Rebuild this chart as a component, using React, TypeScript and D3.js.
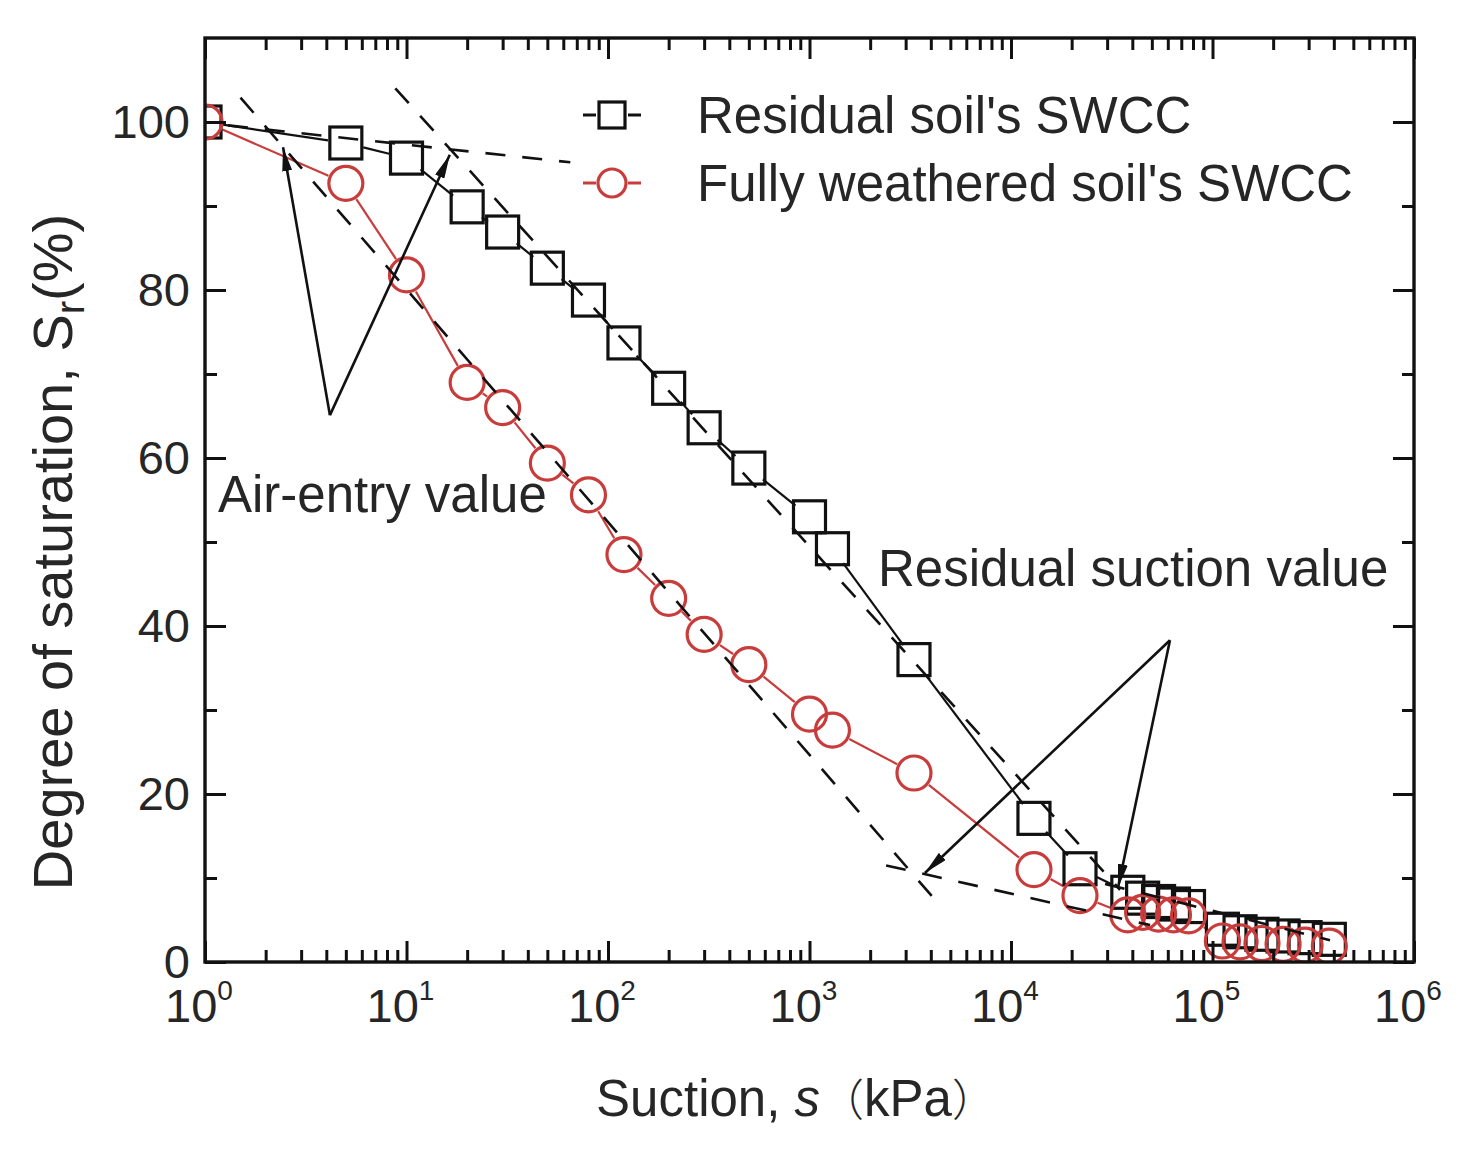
import * as d3 from "d3";
import { useEffect, useRef } from "react";

// suction values (kPa) shared by both soils
const suction = [
  1, 5, 10, 20, 30, 50, 80, 120, 200, 300, 500, 1000, 1300, 3300, 13000, 22000,
  38000, 45000, 54000, 64000, 76000, 112000, 137000, 176000, 224000, 288000, 380000,
];
// degree of saturation Sr (%)
const residualSr = [
  100, 97.5, 95.7, 89.9, 86.9, 82.6, 78.8, 73.7, 68.3, 63.6, 58.8, 53.0, 49.2, 36.0, 17.1, 11.1,
  8.3, 7.6, 7.2, 6.9, 6.6, 3.9, 3.6, 3.3, 3.1, 2.9, 2.7,
];
const weatheredSr = [
  100, 92.7, 81.8, 69.0, 66.0, 59.4, 55.6, 48.5, 43.3, 39.0, 35.4, 29.5, 27.6, 22.5, 11.0, 7.9,
  5.6, 5.9, 5.7, 5.6, 5.5, 2.5, 2.4, 2.2, 2.1, 2.0, 1.9,
];

const seriesNames = ["Residual soil's SWCC", "Fully weathered soil's SWCC"];
const yTicks = [0, 20, 40, 60, 80, 100];
const yMinorTicks = [10, 30, 50, 70, 90];
const xDecades = [0, 1, 2, 3, 4, 5, 6];

// dashed tangent lines, [s1, Sr1, s2, Sr2]
const tangentLines = [
  [1.3, 99.6, 65, 95.2],
  [8.8, 104.0, 34750, 8.6],
  [1.5, 102.9, 4200, 7.4],
  [2400, 11.5, 49000, 4.4],
  [29300, 9.3, 383000, 2.6],
];

// annotation arrows: apex and the points they mark
const airEntryApex = [4.17, 65.1];
const airEntryTips = [[2.44, 97.0], [16.4, 96.1]];
const residualApex = [61500, 38.3];
const residualTips = [[3740, 10.6], [33950, 8.8]];

export default function App() {
  const svgRef = useRef<SVGSVGElement | null>(null);
  useEffect(() => {
    document.body.style.margin = "0";
    if (!svgRef.current) return;
    drawChart(svgRef.current);
  }, []);
  return <svg ref={svgRef} width={1466} height={1150} style={{ display: "block", background: "#fff" }} />;
}

function drawChart(el: SVGSVGElement) {
  const svg = d3.select(el);
  svg.selectAll("*").remove();

  const W = 1466, H = 1150;
  const margin = { top: 38, right: 52, bottom: 188, left: 205 };
  const width = W - margin.left - margin.right;
  const height = H - margin.top - margin.bottom;

  const font = "'Liberation Sans', Arial, Helvetica, sans-serif";
  const ink = "#262626";
  const red = "#c83c3c";

  const x = d3.scaleLog().domain([1, 1e6]).range([0, width]);
  const y = d3.scaleLinear().domain([0, 110]).range([height, 0]);

  const defs = svg.append("defs");
  defs.append("clipPath").attr("id", "plot-clip")
    .append("rect").attr("width", width).attr("height", height);
  defs.append("marker")
    .attr("id", "arrow-head")
    .attr("viewBox", "0 0 24 10")
    .attr("refX", 24).attr("refY", 5)
    .attr("markerWidth", 24).attr("markerHeight", 10)
    .attr("markerUnits", "userSpaceOnUse")
    .attr("orient", "auto")
    .append("path").attr("d", "M0,0 L24,5 L0,10 Z").attr("fill", "#111");

  const chart = svg.append("g").attr("transform", `translate(${margin.left},${margin.top})`);
  const plot = chart.append("g").attr("clip-path", "url(#plot-clip)");

  // line segments between markers, with a gap round each marker
  const gapSegments = (ys: number[], r: number) => {
    const pts = suction.map((v, i) => [x(v), y(ys[i])]);
    const segs: number[][] = [];
    for (let i = 0; i < pts.length - 1; i++) {
      const [x1, y1] = pts[i], [x2, y2] = pts[i + 1];
      const len = Math.hypot(x2 - x1, y2 - y1);
      if (len <= 2 * r + 2) continue;
      const ux = (x2 - x1) / len, uy = (y2 - y1) / len;
      segs.push([x1 + ux * r, y1 + uy * r, x2 - ux * r, y2 - uy * r]);
    }
    return segs;
  };

  plot.append("g").selectAll("line")
    .data(gapSegments(residualSr, 18))
    .join("line")
    .attr("x1", d => d[0]).attr("y1", d => d[1]).attr("x2", d => d[2]).attr("y2", d => d[3])
    .attr("stroke", "#111").attr("stroke-width", 2.2);

  plot.append("g").selectAll("line")
    .data(gapSegments(weatheredSr, 19))
    .join("line")
    .attr("x1", d => d[0]).attr("y1", d => d[1]).attr("x2", d => d[2]).attr("y2", d => d[3])
    .attr("stroke", red).attr("stroke-width", 2.2);

  // markers
  const sq = 32;
  plot.append("g").selectAll("rect")
    .data(suction.map((s, i) => [s, residualSr[i]]))
    .join("rect")
    .attr("x", d => x(d[0]) - sq / 2).attr("y", d => y(d[1]) - sq / 2)
    .attr("width", sq).attr("height", sq)
    .attr("fill", "none").attr("stroke", "#111").attr("stroke-width", 3.2);

  plot.append("g").selectAll("circle")
    .data(suction.map((s, i) => [s, weatheredSr[i]]))
    .join("circle")
    .attr("cx", d => x(d[0])).attr("cy", d => y(d[1])).attr("r", 17)
    .attr("fill", "none").attr("stroke", red).attr("stroke-width", 3.2);

  // dashed tangents
  plot.append("g").selectAll("line")
    .data(tangentLines)
    .join("line")
    .attr("x1", d => x(d[0])).attr("y1", d => y(d[1]))
    .attr("x2", d => x(d[2])).attr("y2", d => y(d[3]))
    .attr("stroke", "#111").attr("stroke-width", 2.6)
    .attr("stroke-dasharray", "20 17");

  // arrows
  const arrows = [
    ...airEntryTips.map(t => [airEntryApex, t]),
    ...residualTips.map(t => [residualApex, t]),
  ];
  chart.append("g").selectAll("line")
    .data(arrows)
    .join("line")
    .attr("x1", d => x(d[0][0])).attr("y1", d => y(d[0][1]))
    .attr("x2", d => x(d[1][0])).attr("y2", d => y(d[1][1]))
    .attr("stroke", "#111").attr("stroke-width", 2.6)
    .attr("marker-end", "url(#arrow-head)");

  // --- ticks (inward on all four sides) ---
  const xMinor = x.ticks().filter(d => !Number.isInteger(Math.round(Math.log10(d) * 1e6) / 1e6));
  const xMajor = xDecades.map(p => Math.pow(10, p));
  const styleTicks = (g: d3.Selection<SVGGElement, unknown, null, undefined>) => {
    g.select(".domain").remove();
    g.selectAll("line").attr("stroke", "#111").attr("stroke-width", 3);
  };
  const tickGroups: [any, number, string][] = [
    [d3.axisBottom(x).tickValues(xMajor).tickSize(-21), height, "h"],
    [d3.axisBottom(x).tickValues(xMinor).tickSize(-12), height, "h"],
    [d3.axisTop(x).tickValues(xMajor).tickSize(-21), 0, "h"],
    [d3.axisTop(x).tickValues(xMinor).tickSize(-12), 0, "h"],
    [d3.axisLeft(y).tickValues(yTicks).tickSize(-21), 0, "v"],
    [d3.axisLeft(y).tickValues(yMinorTicks).tickSize(-12), 0, "v"],
    [d3.axisRight(y).tickValues(yTicks).tickSize(-21), width, "v"],
    [d3.axisRight(y).tickValues(yMinorTicks).tickSize(-12), width, "v"],
  ];
  tickGroups.forEach(([axis, off, dir]) => {
    const g = chart.append("g")
      .attr("transform", dir === "h" ? `translate(0,${off})` : `translate(${off},0)`)
      .call(axis.tickFormat(() => ""));
    styleTicks(g);
  });

  // frame
  chart.append("rect")
    .attr("width", width).attr("height", height)
    .attr("fill", "none").attr("stroke", "#111").attr("stroke-width", 3.4);

  // y tick labels
  chart.append("g").selectAll("text")
    .data(yTicks)
    .join("text")
    .attr("x", -15).attr("y", d => y(d) + 16)
    .attr("text-anchor", "end")
    .style("font-family", font).style("font-size", "47px").style("fill", ink)
    .text(d => d);

  // x tick labels 10^n
  const xl = chart.append("g").selectAll("text")
    .data(xDecades)
    .join("text")
    .attr("x", d => x(Math.pow(10, d)) - 6).attr("y", height + 60)
    .attr("text-anchor", "middle")
    .style("font-family", font).style("font-size", "47px").style("fill", ink);
  xl.append("tspan").text("10");
  xl.append("tspan").attr("dy", -22).style("font-size", "28px").text(d => d);

  // axis titles
  const xt = svg.append("text")
    .attr("x", 796).attr("y", 1116)
    .attr("text-anchor", "middle")
    .style("font-family", font).style("font-size", "51px").style("fill", ink);
  xt.append("tspan").text("Suction, ");
  xt.append("tspan").style("font-style", "italic").text("s");
  xt.append("tspan").style("font-family", "'Noto Sans CJK SC', sans-serif").style("font-weight", 300).style("font-size", "44px").text("（");
  xt.append("tspan").text("kPa");
  xt.append("tspan").style("font-family", "'Noto Sans CJK SC', sans-serif").style("font-weight", 300).style("font-size", "44px").text("）");

  const yt = svg.append("text")
    .attr("transform", "translate(72,552) rotate(-90)")
    .attr("text-anchor", "middle")
    .style("font-family", font).style("font-size", "56px").style("fill", ink);
  yt.append("tspan").text("Degree of saturation, S");
  yt.append("tspan").attr("dy", 12).style("font-size", "40px").text("r");
  yt.append("tspan").attr("dy", -12).text("(%)");

  // legend
  const legend = svg.append("g");
  const rows = [
    { y: 115, color: "#111" },
    { y: 183, color: red },
  ];
  rows.forEach((r, i) => {
    const g = legend.append("g").attr("transform", `translate(612,${r.y})`);
    g.append("line").attr("x1", -29).attr("x2", -16).attr("stroke", r.color).attr("stroke-width", 3);
    g.append("line").attr("x1", 16).attr("x2", 29).attr("stroke", r.color).attr("stroke-width", 3);
    if (i === 0) {
      g.append("rect").attr("x", -13).attr("y", -13).attr("width", 26).attr("height", 26)
        .attr("fill", "none").attr("stroke", r.color).attr("stroke-width", 3.2);
    } else {
      g.append("circle").attr("r", 14).attr("fill", "none").attr("stroke", r.color).attr("stroke-width", 3.2);
    }
    legend.append("text")
      .attr("x", 697).attr("y", r.y + 18)
      .style("font-family", font).style("font-size", "51px").style("fill", ink)
      .text(seriesNames[i]);
  });

  // annotations
  svg.append("text")
    .attr("x", 218).attr("y", 512)
    .style("font-family", font).style("font-size", "51px").style("fill", ink)
    .text("Air-entry value");
  svg.append("text")
    .attr("x", 878).attr("y", 586)
    .style("font-family", font).style("font-size", "51px").style("fill", ink)
    .text("Residual suction value");
}
